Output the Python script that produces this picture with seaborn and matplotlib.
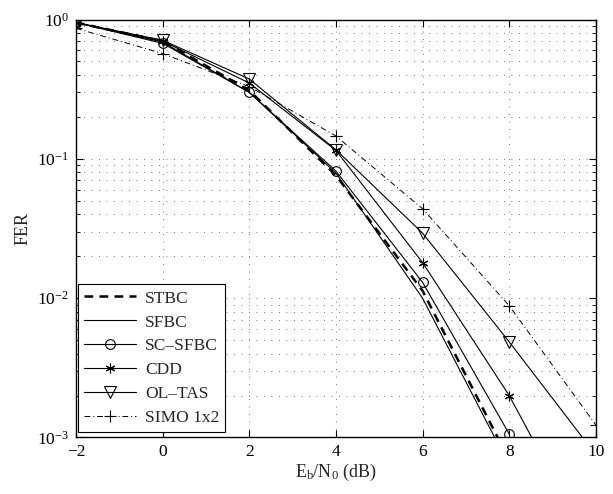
import matplotlib
matplotlib.use("Agg")
import matplotlib.pyplot as plt
import numpy as np
import pandas as pd
import seaborn as sns
from matplotlib.ticker import LogLocator, NullFormatter

# Eb/N0 points (dB)
snr = [-2, 0, 2, 4, 6, 8, 10]
snr_sc = [-2, 0, 2, 4, 6, 8]

# FER
stbc = [0.95, 0.70, 0.31, 0.076, 0.0113, 0.00069, 0.00002]
sfbc = [0.95, 0.69, 0.30, 0.079, 0.0100, 0.00063, 0.00002]
sc_sfbc = [0.95, 0.675, 0.30, 0.0817, 0.0130, 0.00106]
cdd = [0.95, 0.70, 0.35, 0.115, 0.0180, 0.0020, 0.00014]
ol_tas = [0.95, 0.71, 0.374, 0.116, 0.0293, 0.00486, 0.00075]
simo = [0.865, 0.57, 0.33, 0.146, 0.0438, 0.00883, 0.00123]

asterisk = (6, 2, 0)  # six-spoke asterisk like matlab's '*'

series = [
    ("STBC", snr, stbc, dict(linestyle=(0, (3.5, 2.5)), linewidth=1.8)),
    ("SFBC", snr, sfbc, dict(linestyle="-", linewidth=0.8)),
    ("SC\u2013SFBC", snr_sc, sc_sfbc, dict(linestyle="-", linewidth=0.8, marker="o", markersize=7)),
    ("CDD", snr, cdd, dict(linestyle="-", linewidth=0.8, marker=asterisk, markersize=7)),
    ("OL\u2013TAS", snr, ol_tas, dict(linestyle="-", linewidth=0.8, marker="v", markersize=8)),
    ("SIMO 1x2", snr, simo, dict(linestyle=(0, (6, 3, 1, 3)), linewidth=0.7, marker="+", markersize=9)),
]

sns.set_theme(style="ticks")
plt.rcParams["font.family"] = ["Liberation Serif", "DejaVu Serif"]
plt.rcParams["mathtext.fontset"] = "custom"
plt.rcParams["mathtext.rm"] = "Liberation Serif"
plt.rcParams["mathtext.it"] = "Liberation Serif:italic"

fig = plt.figure(figsize=(6.13, 4.94), dpi=100)
ax = fig.add_axes([0.124, 0.1144, 0.848, 0.8461])

for name, x, y, style in series:
    df = pd.DataFrame({"snr": x, "fer": y})
    sns.lineplot(data=df, x="snr", y="fer", ax=ax, color="black", label=name,
                 markerfacecolor="none", markeredgecolor="black", mew=0.8, **style)

ax.set_yscale("log")
ax.set_xlim(-2, 10)
ax.set_ylim(1e-3, 1)
ax.set_xticks(np.arange(-2, 11, 2))
ax.yaxis.set_major_locator(LogLocator(base=10, numticks=10))
ax.yaxis.set_minor_locator(LogLocator(base=10, subs=np.arange(2, 10), numticks=10))
ax.yaxis.set_minor_formatter(NullFormatter())

grid_kw = dict(linestyle=(0, (1, 8)), color="0.3", linewidth=0.6)
ax.grid(True, which="major", **grid_kw)
ax.grid(True, which="minor", axis="y", **grid_kw)

ax.tick_params(which="both", direction="in", top=True, right=True, labelsize=12.5, colors="black")
ax.tick_params(which="major", length=5, width=0.8, pad=5)
ax.tick_params(which="minor", length=3, width=0.6)
for sp in ax.spines.values():
    sp.set_linewidth(1.0)
    sp.set_color("black")

ax.set_xlabel(r"E$_\mathrm{b}$/N$_\mathrm{0}$ (dB)", fontsize=13, labelpad=1)
ax.set_ylabel("FER", fontsize=13, labelpad=4)

leg = ax.legend(loc="lower left", bbox_to_anchor=(0.004, 0.012), borderaxespad=0,
                fontsize=12.5, handlelength=3.0, frameon=True, fancybox=False,
                edgecolor="black", framealpha=1, labelspacing=0.45, borderpad=0.35,
                handletextpad=0.5)
leg.get_frame().set_linewidth(0.8)

fig.savefig("out.png", dpi=100)
